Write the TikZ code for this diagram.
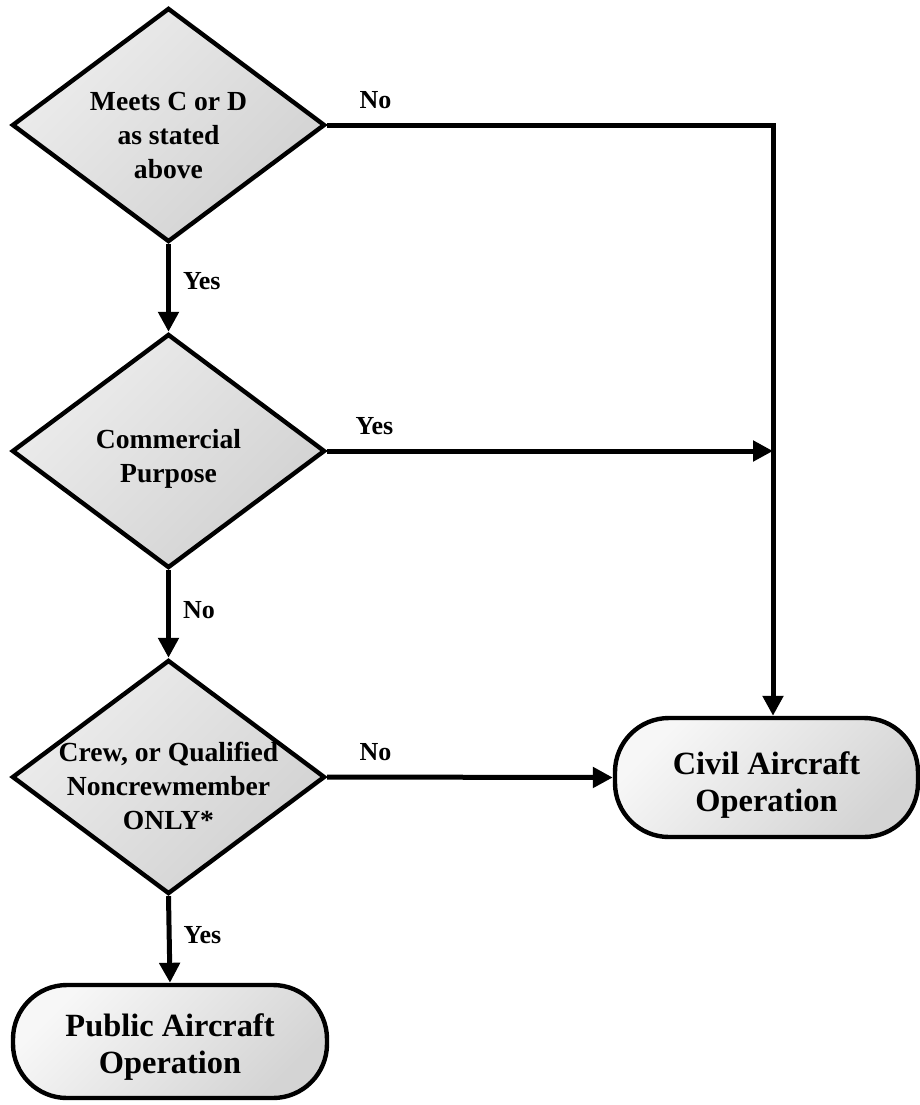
\documentclass[tikz,border=0pt]{standalone}
\usepackage{fontspec}
\setmainfont{Liberation Serif}
\usetikzlibrary{shapes.geometric, arrows.meta, positioning}
\tikzset{
    decision/.style={diamond, draw, line width=2.2pt, aspect=1.34, inner sep=-10pt,
        minimum width=156.5pt, minimum height=117pt, align=center,
        text height=52pt, text depth=0pt,
        font=\fontsize{13.8}{17}\selectfont\bfseries,
        top color=black!7, bottom color=black!18, shading angle=45},
    terminal/.style={rectangle, rounded corners=27pt, draw, line width=2.2pt, inner sep=2pt,
        align=center, text height=32pt, text depth=0pt,
        font=\fontsize{16.2}{18.5}\selectfont\bfseries,
        top color=black!3, bottom color=black!17, shading angle=45},
    flow/.style={line width=2.5pt, -{Triangle[length=10pt, width=10pt]}},
    lbl/.style={inner sep=0pt, font=\fontsize{13}{15}\selectfont\bfseries},
}
\begin{document}
\begin{tikzpicture}[x=0.5pt, y=-0.5pt]
\useasboundingbox (0,0) rectangle (920,1105);
\node[decision, text height=53pt] (meets) at (168.5,125) {Meets C or D\\as stated\\above};
\node[decision, text height=31pt] (purpose) at (168.5,451) {Commercial\\Purpose};
\node[decision] (crew) at (168.5,777) {Crew, or Qualified\\Noncrewmember\\ONLY*};
\node[terminal, minimum width=157pt, minimum height=56.5pt] (public) at (170,1041.5) {Public Aircraft\\Operation};
\node[terminal, minimum width=151.5pt, minimum height=59.5pt, text height=34pt] (civil) at (766.5,777.5) {Civil Aircraft\\Operation};
\coordinate (corner) at (773,125);

\draw[flow] (meets.south) -- node[lbl, right=6pt, pos=0.42] {Yes} (purpose.north);
\draw[flow] (purpose.south) -- node[lbl, right=6pt, pos=0.45] {No} (crew.north);
\draw[flow] (crew.south) -- node[lbl, right=6pt, pos=0.45] {Yes} (public.north);
\draw[flow] (meets.east) -- node[lbl, at start, anchor=base west, xshift=15pt, yshift=8.5pt] {No} (corner) -- (corner |- civil.north);
\draw[flow] (purpose.east) -- node[lbl, at start, anchor=base west, xshift=13pt, yshift=8.5pt] {Yes} (purpose.east -| corner);
\draw[flow] (crew.east) -- node[lbl, at start, anchor=base west, xshift=15pt, yshift=8.5pt] {No} (civil.west);
\end{tikzpicture}
\end{document}
